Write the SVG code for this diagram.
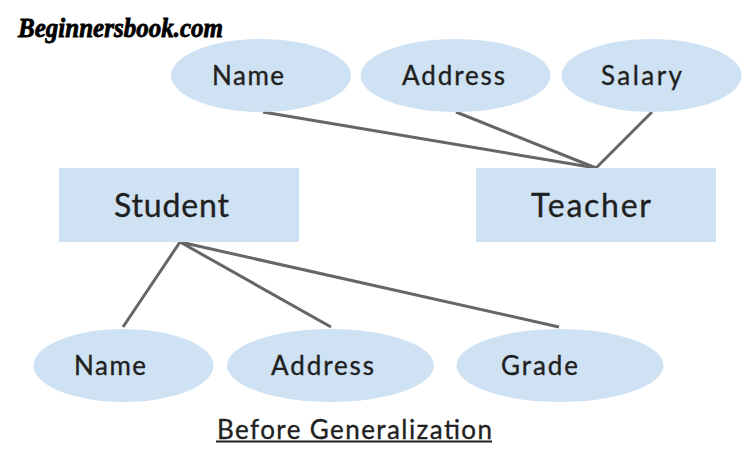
<svg xmlns="http://www.w3.org/2000/svg" width="755" height="462" viewBox="0 0 755 462">
<style>
.e{fill:#cfe2f3}
.r{fill:#cfe2f3}
.t{font-family:"Lato","Noto Sans",sans-serif;fill:#1f1f1f;stroke:#1f1f1f;stroke-width:0.35}
.a{font-size:26px}
.b{font-size:32px}
.c{fill:none;stroke:#666;stroke-width:3}
</style>
<rect width="755" height="462" fill="#fff"/>
<text x="18" y="37" font-family="'Liberation Serif',serif" font-style="italic" font-weight="bold" font-size="27" fill="#000" stroke="#000" stroke-width="0.8" textLength="205" lengthAdjust="spacingAndGlyphs">Beginnersbook.com</text>
<g id="connectors">
<path class="c" d="M263 112L596 168M456 112L596 168M652 112L596 168M180 242L123 327M180 242L331 327M180 242L559 327"/>
</g>
<g id="t-name"><ellipse class="e" cx="261" cy="75.500" rx="90" ry="36.500"/><text class="t a" x="212" y="85" textLength="72">Name</text></g>
<g id="t-address"><ellipse class="e" cx="455.500" cy="75.500" rx="95" ry="36.500"/><text class="t a" x="402" y="85" textLength="103">Address</text></g>
<g id="t-salary"><ellipse class="e" cx="651.500" cy="75.500" rx="90" ry="36.500"/><text class="t a" x="601" y="85" textLength="81">Salary</text></g>
<g id="student"><rect class="r" x="59" y="168" width="240" height="74"/><text class="t b" x="114" y="217" textLength="115">Student</text></g>
<g id="teacher"><rect class="r" x="476" y="168" width="240" height="74"/><text class="t b" x="531" y="217" textLength="120">Teacher</text></g>
<g id="s-name"><ellipse class="e" cx="123.500" cy="365.500" rx="90" ry="36.500"/><text class="t a" x="74" y="375" textLength="72">Name</text></g>
<g id="s-address"><ellipse class="e" cx="330.500" cy="365.500" rx="103.500" ry="36.500"/><text class="t a" x="271" y="375" textLength="103">Address</text></g>
<g id="s-grade"><ellipse class="e" cx="560" cy="365.500" rx="103.500" ry="36.500"/><text class="t a" x="501" y="375" textLength="77">Grade</text></g>
<text class="t a" x="217" y="439" textLength="275">Before Generalization</text>
<line x1="216" y1="441.500" x2="492" y2="441.500" stroke="#1f1f1f" stroke-width="2"/>
</svg>
